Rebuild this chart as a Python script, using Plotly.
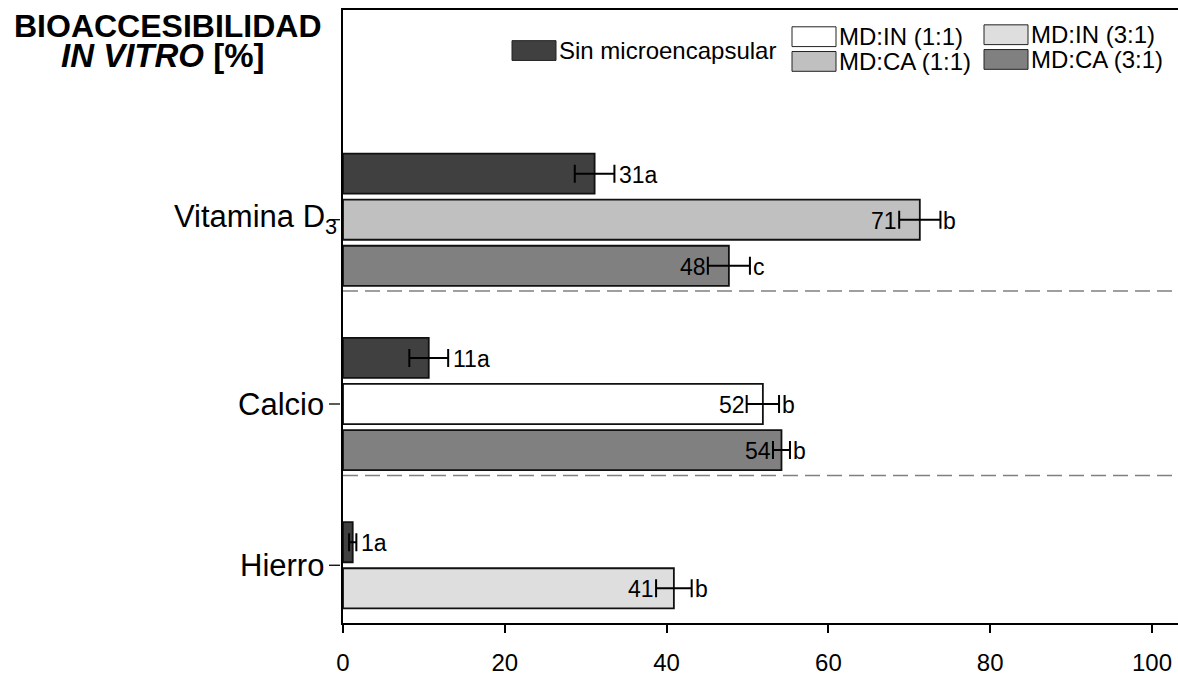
import plotly.graph_objects as go

# ---- data -------------------------------------------------------------
categories = ["Vitamina D<sub>3</sub>", "Calcio", "Hierro"]
series = ["Sin microencapsular", "MD:IN (1:1)", "MD:IN (3:1)", "MD:CA (1:1)", "MD:CA (3:1)"]

# bioaccessibility (%) per series, one entry per category (None = not tested)
values = {
    "Sin microencapsular": [31.1, 10.6, 1.2],
    "MD:IN (1:1)": [None, 51.9, None],
    "MD:IN (3:1)": [None, None, 40.9],
    "MD:CA (1:1)": [71.3, None, None],
    "MD:CA (3:1)": [47.7, 54.2, None],
}
errors = {
    "Sin microencapsular": [2.45, 2.4, 0.45],
    "MD:IN (1:1)": [None, 2.0, None],
    "MD:IN (3:1)": [None, None, 2.2],
    "MD:CA (1:1)": [2.55, None, None],
    "MD:CA (3:1)": [2.6, 1.05, None],
}
letters = {
    "Sin microencapsular": ["a", "a", "a"],
    "MD:IN (1:1)": [None, "b", None],
    "MD:IN (3:1)": [None, None, "b"],
    "MD:CA (1:1)": ["b", None, None],
    "MD:CA (3:1)": ["c", "b", None],
}
colors = {
    "Sin microencapsular": "#404040",
    "MD:IN (1:1)": "#ffffff",
    "MD:IN (3:1)": "#dedede",
    "MD:CA (1:1)": "#c0c0c0",
    "MD:CA (3:1)": "#808080",
}
x_ticks = [0, 20, 40, 60, 80, 100]

# ---- layout geometry ----------------------------------------------------
W, H = 1178, 676
ML, MR, MT, MB = 343, 0, 10, 46
PW, PH = W - ML - MR, H - MT - MB
FONT = "Liberation Sans, Arial, sans-serif"
SLOT0_PX, SLOT_PX = 175.5, 46.6   # pixel centre of first bar slot, pixels per slot


def px(xp):
    return (xp - ML) / PW


def py(yp):
    return (H - MB - yp) / PH


# slot positions: bars of a category stacked, one empty slot between categories
slots = {s: [None] * len(categories) for s in series}
cat_centres, separators = [], []
pos = 0
for ci in range(len(categories)):
    used = []
    for s in series:
        if values[s][ci] is not None:
            slots[s][ci] = pos
            used.append(pos)
            pos += 1
    cat_centres.append(sum(used) / len(used))
    if ci < len(categories) - 1:
        separators.append(used[-1] + 0.55)
    pos += 1

fig = go.Figure()
annotations = []
label_font = dict(family=FONT, size=23, color="black")
for s in series:
    ys, xs, es = [], [], []
    for ci in range(len(categories)):
        v = values[s][ci]
        if v is None:
            continue
        y = slots[s][ci]
        e = errors[s][ci]
        lab = letters[s][ci]
        ys.append(y)
        xs.append(v)
        es.append(e)
        if s == "Sin microencapsular":
            annotations.append(dict(x=v + e, y=y, text=f"{round(v)}{lab}",
                                    xanchor="left", yanchor="middle", xshift=3, yshift=-1,
                                    showarrow=False, font=label_font))
        else:
            annotations.append(dict(x=v - e, y=y, text=f"{round(v)}",
                                    xanchor="right", yanchor="middle", xshift=0, yshift=-1,
                                    showarrow=False, font=label_font))
            annotations.append(dict(x=v + e, y=y, text=lab,
                                    xanchor="left", yanchor="middle", xshift=1, yshift=-1,
                                    showarrow=False, font=label_font))
    fig.add_trace(go.Bar(
        y=ys, x=xs, orientation="h", name=s, width=0.87,
        marker=dict(color=colors[s], line=dict(color="#111111", width=1.8)),
        error_x=dict(type="data", array=es, color="black", thickness=2, width=9),
        showlegend=False,
    ))

shapes = []
for sy in separators:
    shapes.append(dict(type="line", xref="paper", yref="y", x0=0, x1=1, y0=sy, y1=sy,
                       line=dict(color="#808080", width=1.5, dash="15px,7px")))

# category labels with short detached tick marks
for ci, cat in enumerate(categories):
    shapes.append(dict(type="line", xref="paper", yref="y", x0=px(329), x1=px(340),
                       y0=cat_centres[ci], y1=cat_centres[ci],
                       line=dict(color="black", width=1.3)))
    right_px = 339 if "<sub>" in cat else 326
    annotations.append(dict(xref="paper", yref="y", x=px(right_px), y=cat_centres[ci],
                            text=cat, xanchor="right", yanchor="middle", showarrow=False,
                            yshift=1 if "<sub>" in cat else 0,
                            font=dict(family=FONT, size=31, color="black")))

# legend drawn as swatches + labels
legend_items = [
    ("Sin microencapsular", 512, 41, 556, 61),
    ("MD:IN (1:1)", 792, 27, 836, 47),
    ("MD:CA (1:1)", 792, 52, 836, 72),
    ("MD:IN (3:1)", 984, 25, 1028, 45),
    ("MD:CA (3:1)", 984, 50, 1028, 70),
]
for name, x0, y0, x1, y1 in legend_items:
    shapes.append(dict(type="rect", xref="paper", yref="paper",
                       x0=px(x0), x1=px(x1), y0=py(y1), y1=py(y0),
                       fillcolor=colors[name], line=dict(color="#222222", width=1)))
    annotations.append(dict(xref="paper", yref="paper", x=px(x1 + 1), y=py((y0 + y1) / 2),
                            text=name, xanchor="left", yanchor="middle", showarrow=False,
                            font=dict(family=FONT, size=24, color="black")))

# axis title in the upper-left corner
annotations.append(dict(xref="paper", yref="paper", x=px(168), y=py(26),
                        text="<b>BIOACCESIBILIDAD</b>", xanchor="center", yanchor="middle",
                        showarrow=False, font=dict(family=FONT, size=32, color="black")))
annotations.append(dict(xref="paper", yref="paper", x=px(163), y=py(56),
                        text="<b><i>IN VITRO</i> [%]</b>", xanchor="center", yanchor="middle",
                        showarrow=False, font=dict(family=FONT, size=33, color="black")))

top_slot = (MT - SLOT0_PX) / SLOT_PX
bottom_slot = (H - MB - SLOT0_PX) / SLOT_PX

fig.update_layout(
    width=W, height=H,
    margin=dict(l=ML, r=MR, t=MT, b=MB, pad=0),
    paper_bgcolor="white", plot_bgcolor="white",
    barmode="overlay",
    shapes=shapes, annotations=annotations,
    xaxis=dict(range=[0, PW / 8.09], tickvals=x_ticks, ticktext=[str(t) for t in x_ticks],
               showgrid=False, zeroline=False, showline=True, linecolor="black", linewidth=2,
               mirror=True, ticks="outside", ticklen=8, tickwidth=1.5, tickcolor="black",
               tickfont=dict(family=FONT, size=24, color="black"), ticklabelstandoff=9),
    yaxis=dict(range=[bottom_slot, top_slot], showticklabels=False, ticks="",
               showgrid=False, zeroline=False, showline=True, linecolor="black", linewidth=2),
)

fig.write_html("out.html")
